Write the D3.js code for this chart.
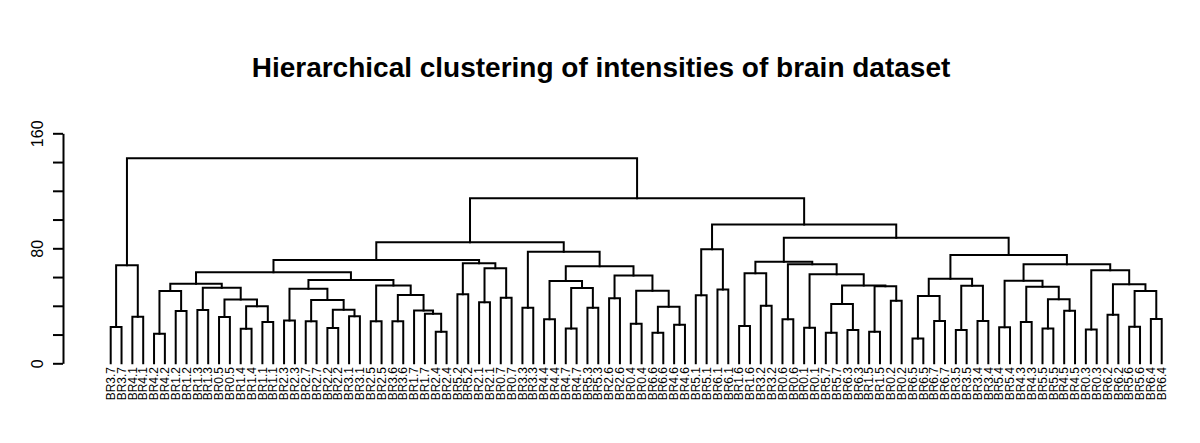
<!DOCTYPE html>
<html>
<head>
<meta charset="utf-8">
<script src="https://cdn.jsdelivr.net/npm/d3@7"></script>
<style>
body { margin: 0; background: #fff; }
text { font-family: "Liberation Sans", Arial, Helvetica, sans-serif; fill: #000; }
</style>
</head>
<body>
<script>
var width = 1200;
var height = 443;

// leaf labels, in plotting order
var labels = [
  "BR3.7","BR3.7","BR4.1","BR4.1","BR4.2","BR4.2","BR1.2","BR1.2","BR1.3","BR1.3",
  "BR0.5","BR0.5","BR1.4","BR1.4","BR1.1","BR1.1","BR2.3","BR2.3","BR2.7","BR2.7",
  "BR2.2","BR2.2","BR3.1","BR3.1","BR2.5","BR2.5","BR3.6","BR3.6","BR1.7","BR1.7",
  "BR2.4","BR2.4","BR5.2","BR5.2","BR2.1","BR2.1","BR0.7","BR0.7","BR3.3","BR3.3",
  "BR4.4","BR4.4","BR4.7","BR4.7","BR5.3","BR5.3","BR2.6","BR2.6","BR0.4","BR0.4",
  "BR6.6","BR6.6","BR4.6","BR4.6","BR5.1","BR5.1","BR6.1","BR6.1","BR1.6","BR1.6",
  "BR3.2","BR3.2","BR0.6","BR0.6","BR0.1","BR0.1","BR5.7","BR5.7","BR6.3","BR6.3",
  "BR1.5","BR1.5","BR0.2","BR0.2","BR6.5","BR6.5","BR6.7","BR6.7","BR3.5","BR3.5",
  "BR3.4","BR3.4","BR5.4","BR5.4","BR4.3","BR4.3","BR5.5","BR5.5","BR4.5","BR4.5",
  "BR0.3","BR0.3","BR6.2","BR6.2","BR5.6","BR5.6","BR6.4","BR6.4"
];

// hclust style merge table: negative = leaf (1-based), positive = earlier merge (1-based)
var merges = [
  [-1,-2],[-3,-4],[-5,-6],[-7,-8],[-9,-10],[-11,-12],[-13,-14],[-15,-16],[-17,-18],[-19,-20],
  [-21,-22],[-23,-24],[-25,-26],[-27,-28],[-31,-32],[-30,15],[-29,16],[-33,-34],[-35,-36],[-37,-38],
  [-39,-40],[-41,-42],[-43,-44],[-45,-46],[-47,-48],[-49,-50],[-51,-52],[-53,-54],[-55,-56],[-57,-58],
  [-59,-60],[-61,-62],[-63,-64],[-65,-66],[-67,-68],[-69,-70],[-71,-72],[-73,-74],[-75,-76],[-77,-78],
  [-79,-80],[-81,-82],[-83,-84],[-85,-86],[-87,-88],[-89,-90],[-91,-92],[-93,-94],[-95,-96],[-97,-98],
  [1,2],[3,4],[7,8],[6,53],[5,54],[52,55],[11,12],[10,57],[9,58],[14,17],
  [13,60],[59,61],[56,62],[19,20],[18,64],[63,65],[23,24],[22,67],[27,28],[26,69],
  [25,70],[68,71],[21,72],[66,73],[29,30],[31,32],[35,36],[37,38],[77,78],[34,79],
  [33,80],[76,81],[39,40],[41,42],[83,84],[45,46],[44,86],[43,87],[49,50],[48,89],
  [47,90],[88,91],[85,92],[82,93],[75,94],[74,95],[51,96]
];

var heights = [
  25.3,32.3,20.5,36.3,37.1,32.2,24.1,28.7,29.7,29.2,
  24.5,32.8,29.2,29.2,22.0,34.5,36.8,48.1,42.4,45.6,
  38.7,30.6,24.2,38.7,45.2,27.5,21.3,26.8,47.3,51.3,
  26.0,40.0,30.6,24.7,21.3,23.2,22.0,43.6,17.2,29.4,
  23.2,29.5,25.0,28.7,24.2,36.6,23.6,33.8,25.4,30.8,
  68.2,50.3,39.7,44.4,52.6,55.3,37.3,44.0,51.9,47.5,
  54.2,57.9,63.4,66.1,69.6,71.9,52.4,57.3,39.4,50.4,
  61.0,67.5,77.6,84.2,79.3,62.6,41.3,53.6,54.2,62.0,
  68.9,70.7,46.8,54.0,58.8,44.5,53.3,57.5,50.3,55.0,
  64.7,68.9,75.3,87.3,96.5,114.8,142.6
];

var yTicks = [0, 20, 40, 60, 80, 100, 120, 140, 160];
var yTickLabels = [0, 80, 160];
var title = "Hierarchical clustering of intensities of brain dataset";

var svg = d3.select("body").append("svg")
    .attr("width", width)
    .attr("height", height)

var x = d3.scalePoint()
    .domain(d3.range(labels.length))
    .range([110.7, 1161.7]);

var y = d3.scaleLinear()
    .domain([0, 160])
    .range([363.3, 133.3]);

// positions of every merge
var nodes = [];
function pos(id) {
  if (id < 0) return { x: x(-id - 1), h: 0 };
  return nodes[id - 1];
}
merges.forEach(function(m, i) {
  var a = pos(m[0]), b = pos(m[1]);
  nodes.push({ x: (a.x + b.x) / 2, h: heights[i], a: a, b: b });
});

svg.append("g")
  .selectAll("path")
  .data(nodes)
  .enter().append("path")
    .attr("fill", "none")
    .attr("stroke", "#000")
    .attr("stroke-width", 2)
    .attr("stroke-linecap", "square")
    .attr("d", function(d) {
      return "M" + d.a.x + "," + y(d.a.h) +
             "V" + y(d.h) +
             "H" + d.b.x +
             "V" + y(d.b.h);
    });

// leaf labels
svg.append("g")
  .selectAll("text")
  .data(labels)
  .enter().append("text")
    .attr("transform", function(d, i) { return "translate(" + x(i) + ",367) rotate(-90)"; })
    .attr("text-anchor", "end")
    .attr("dy", "0.35em")
    .style("font-size", "12px")
    .text(function(d) { return d; });

// y axis
var yAxis = d3.axisLeft(y)
    .tickValues(yTicks)
    .tickSize(10)
    .tickSizeOuter(0)
    .tickFormat(function(d) { return yTickLabels.indexOf(d) >= 0 ? d : ""; });

var ga = svg.append("g")
    .attr("transform", "translate(63,0)")
    .call(yAxis);
ga.select(".domain").attr("stroke-width", 2);
ga.selectAll(".tick line").attr("stroke-width", 2);
ga.selectAll(".tick text")
    .attr("x", null).attr("dy", null)
    .attr("transform", "translate(-20,0) rotate(-90)")
    .attr("text-anchor", "middle")
    .style("font-size", "16px")
    .style("font-family", "'Liberation Sans', Arial, sans-serif")
    .attr("fill", "#000");

svg.append("text")
    .attr("x", 601)
    .attr("y", 77)
    .attr("text-anchor", "middle")
    .style("font-size", "28px")
    .style("font-weight", "bold")
    .text(title);
</script>
</body>
</html>
